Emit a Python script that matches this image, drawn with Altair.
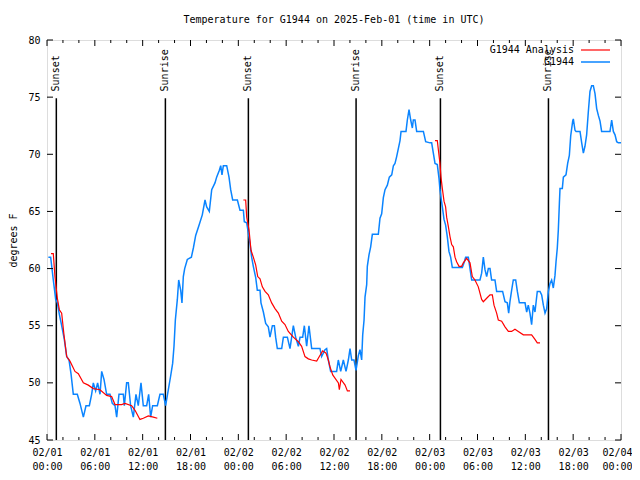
import altair as alt
import pandas as pd

TITLE = "Temperature for G1944 on 2025-Feb-01 (time in UTC)"
FONT = "DejaVu Sans Mono"
BLUE = "#0a84ff"

# Observations (hours after 2025-02-01 00:00 UTC, degrees F)
obs_hours = [
    0.17, 0.46, 0.79, 1.09, 1.30, 1.55, 1.84, 2.17, 2.47, 2.76, 3.01, 3.30, 3.80, 4.14, 4.56, 4.89,
    5.31, 5.60, 5.81, 6.10, 6.35, 6.65, 6.86, 7.15, 7.48, 7.90, 8.19, 8.53, 8.74, 9.03, 9.57, 9.70,
    9.99, 10.20, 10.49, 10.83, 11.16, 11.45, 11.79, 12.08, 12.50, 12.75, 13.00, 13.25, 13.84, 14.17,
    14.59, 14.88,
    15.22, 15.51, 15.76, 15.93, 16.10, 16.35, 16.52, 16.77, 16.93, 17.10, 17.27, 17.60, 18.11, 18.36,
    18.65, 19.07, 19.48, 19.82, 20.03, 20.36, 20.66, 21.07, 21.28, 21.62, 21.79, 21.95, 22.12, 22.54,
    22.83, 23.04, 23.29, 23.88,
    24.21, 24.63, 24.75, 25.05, 25.26, 25.46, 25.67, 25.88, 26.18, 26.38, 26.72, 26.84, 27.14, 27.43,
    27.76, 27.97, 28.27, 28.52, 28.68, 28.89, 29.44, 29.65, 30.15, 30.48, 30.69, 30.90, 31.19, 31.53,
    31.74, 32.07, 32.28, 32.57, 32.86, 33.20, 34.24, 34.45, 34.87, 35.08, 35.29, 35.58, 36.33, 36.54,
    36.84, 37.17, 37.51, 37.80,
    38.01, 38.22, 38.51, 38.76, 39.06, 39.26, 39.47, 39.60, 39.77, 39.89, 40.10, 40.18, 40.39, 40.60,
    40.81, 41.56, 41.77, 41.98, 42.19, 42.40, 42.69, 42.94, 43.24, 43.45, 43.65, 43.86, 44.07, 44.28,
    44.41, 45.03, 45.20, 45.41, 45.62, 45.83, 45.95, 46.16, 46.37, 47.21, 47.50,
    48.04, 48.25, 48.46, 48.67, 48.96, 49.17, 49.29, 49.42, 49.59, 49.80, 50.00, 50.21, 50.42, 50.63,
    50.84, 52.10, 52.35, 52.51, 52.85, 53.06, 53.27, 54.31, 54.52, 54.73, 54.94, 55.15, 55.36, 55.57,
    55.77, 56.19, 56.40, 57.15, 57.45, 57.74, 57.91, 58.07, 58.28, 58.49, 58.79, 59.00, 59.25, 59.96,
    60.17, 60.37, 60.58, 60.79, 61.00, 61.21, 61.50, 61.71,
    61.84, 62.05, 62.26, 62.47, 62.68, 62.76, 62.89, 63.10, 63.30, 63.51, 63.72, 63.85, 64.01, 64.14,
    64.27, 64.35, 64.64, 64.77, 65.10, 65.31, 65.52, 65.69, 65.94, 66.02, 66.23, 66.36, 66.86, 67.07,
    67.28, 67.48, 67.69, 67.90, 68.11, 68.32, 68.53, 68.74, 68.95, 69.16, 69.37, 69.57, 70.62, 70.83,
    71.04, 71.25, 71.46, 71.66, 72.00,
]
obs_temp = [
    61, 61, 59, 57.3, 57, 56, 55, 53.8, 52.3, 52, 50.8, 49, 49, 48.2, 47, 48,
    48, 49, 50, 49.3, 50, 49, 51, 50.3, 49, 49, 48.2, 48, 47, 49, 49, 48,
    50, 50, 48, 47, 49, 48, 50, 48, 48, 49, 47, 48, 48, 49,
    49, 48,
    49.4, 50.6, 51.7, 53.2, 55.5, 57.3, 59.0, 58.1, 57.0, 59.3, 60.0, 60.8, 61.0, 61.8,
    62.9, 63.8, 64.7, 66.0, 65.4, 65.0, 66.9, 67.5, 68.0, 68.6, 69.0, 68.2, 69.0, 69.0,
    68.0, 66.9, 66.0, 66.0,
    65.1, 65.1, 64.1, 64.0, 63.1, 62.2, 61.0, 60.2, 59.2, 58.1, 58.1, 57.0, 56.2, 55.2,
    54.9, 54.0, 55.0, 55.0, 54.0, 53.0, 53.0, 54.0, 54.0, 53.0, 54.0, 55.0, 54.0, 53.2,
    54.0, 54.0, 55.0, 53.2, 55.0, 53.0, 53.0, 52.3, 52.9, 53.0, 52.0, 51.0, 51.0, 52.0,
    51.0, 52.0, 51.0, 52.0,
    53.0, 52.0, 52.0, 51.1, 52.4, 52.9, 52.0, 54.2, 55.5, 57.5, 58.6, 60.2, 61.2, 61.9,
    63.0, 63.0, 64.4, 64.8, 66.2, 66.9, 67.3, 68.0, 68.2, 69.0, 69.2, 69.8, 70.5, 71.2,
    72.0, 72.0, 73.0, 73.9, 73.0, 72.3, 73.0, 73.0, 72.0, 72.0, 71.1,
    71.0, 71.0, 70.1, 69.2, 69.1, 67.9, 66.9, 66.2, 65.4, 64.3, 63.8, 62.8, 61.5, 61.0,
    60.1, 60.1, 60.6, 61.0, 61.0, 60.0, 59.0, 59.0, 59.6, 61.0, 59.9, 59.3, 60.0, 60.0,
    59.0, 59.0, 58.0, 58.0, 57.1, 57.0, 56.1, 57.1, 58.1, 59.0, 59.0, 58.0, 57.0, 57.0,
    56.2, 56.8, 56.1, 55.1, 56.8, 56.2, 58.0, 58.0,
    58.0, 57.7, 56.8, 56.1, 56.5, 57.1, 58.0, 58.7, 59.0, 58.3, 59.4, 60.6, 61.8, 63.4,
    65.7, 67.0, 67.0, 68.0, 68.2, 69.2, 69.9, 71.6, 72.9, 73.1, 72.1, 72.0, 72.0, 71.0,
    70.1, 70.7, 71.7, 73.7, 75.5, 76.0, 76.0, 75.3, 74.0, 73.4, 72.9, 72.0, 72.0, 73.0,
    72.0, 71.7, 71.1, 71.0, 71.0,
]

# Analysis, three night-time segments
ana1_hours = [0.50, 0.79, 1.00, 1.30, 1.55, 1.84, 2.13, 2.47, 2.88, 3.51, 3.93, 4.56, 5.18, 5.81,
              6.65, 7.48, 8.11, 8.53, 9.36, 9.78, 10.62, 11.04, 11.66, 12.08, 12.71, 13.34, 13.84]
ana1_temp = [61.3, 61.3, 59.3, 57.4, 56.4, 56.1, 54.2, 52.3, 51.9, 51.0, 50.8, 50.0, 49.8, 49.5,
             49.4, 48.9, 48.8, 48.1, 48.1, 48.2, 48.0, 47.6, 46.8, 46.9, 47.1, 47.0, 46.9]
ana2_hours = [24.63, 24.92, 25.05, 25.34, 25.59, 25.88, 26.18, 26.43, 26.72, 27.01, 27.35, 27.76,
              28.18, 28.60, 29.02, 29.44, 29.85, 30.27, 30.90, 31.53, 31.94, 32.36, 32.78, 33.20,
              33.83, 34.16, 34.58, 35.00, 35.29, 35.50, 35.84, 36.55, 36.67, 36.88, 37.39, 37.68, 38.01]
ana2_temp = [66.0, 66.0, 64.5, 63.4, 61.6, 61.0, 60.3, 59.3, 59.1, 58.4, 58.0, 57.7,
             57.0, 56.5, 56.1, 55.4, 55.1, 54.5, 54.0, 53.6, 53.2, 52.3, 52.1, 52.0,
             51.9, 52.3, 52.8, 52.6, 52.0, 51.4, 50.7, 50.0, 49.4, 50.3, 49.8, 49.3, 49.3]
ana3_hours = [48.67, 48.96, 49.09, 49.29, 49.42, 49.59, 49.80, 50.00, 50.13, 50.34, 50.55, 50.76,
              50.97, 51.18, 51.38, 51.68, 52.01, 52.22, 52.64, 53.06, 53.35, 53.68, 54.10, 54.52,
              54.73, 55.15, 55.57, 55.86, 56.07, 56.40, 56.61, 57.03, 57.45, 57.87, 58.28, 58.70,
              59.12, 59.75, 60.79, 61.21, 61.50, 61.84]
ana3_temp = [71.2, 71.2, 70.4, 69.2, 68.0, 67.0, 65.9, 65.4, 64.5, 63.7, 62.8, 62.1,
             61.9, 61.0, 60.6, 60.2, 60.2, 60.5, 60.9, 60.5, 59.3, 59.0, 58.4, 57.3,
             57.1, 57.4, 57.7, 57.7, 56.8, 56.1, 55.5, 55.4, 54.9, 54.5, 54.5, 54.7,
             54.5, 54.2, 54.2, 53.8, 53.5, 53.5]

sun_hours = [1.17, 14.85, 25.26, 38.77, 49.35, 62.90]
sun_labels = ["Sunset", "Sunrise", "Sunset", "Sunrise", "Sunset", "Sunrise"]

y_ticks = [45, 50, 55, 60, 65, 70, 75, 80]
x_major_hours = list(range(0, 73, 6))
x_minor_hours = [h for h in range(0, 73, 2) if h % 6 != 0]

base = pd.Timestamp("2025-02-01 00:00:00")


def ts(hours):
    return [(base + pd.Timedelta(hours=h)).strftime("%Y-%m-%dT%H:%M:%SZ") for h in hours]


obs = pd.DataFrame({"time": ts(obs_hours), "temp": obs_temp})
ana = pd.concat([
    pd.DataFrame({"time": ts(h), "temp": v, "seg": i})
    for i, (h, v) in enumerate([(ana1_hours, ana1_temp), (ana2_hours, ana2_temp), (ana3_hours, ana3_temp)])
])
sun = pd.DataFrame({"time": ts(sun_hours), "label": sun_labels})
xmaj = pd.DataFrame({"time": ts(x_major_hours)})
xmin = pd.DataFrame({"time": ts(x_minor_hours)})
ytk = pd.DataFrame({"temp": y_ticks})

xscale = alt.Scale(
    type="utc",
    domain=[alt.DateTime(year=2025, month=2, date=1, hours=0, utc=True),
            alt.DateTime(year=2025, month=2, date=4, hours=0, utc=True)],
    nice=False,
)
yscale = alt.Scale(domain=[45, 80], nice=False, zero=False)

x_values = [alt.DateTime(year=2025, month=2, date=1 + h // 24, hours=h % 24, utc=True) for h in x_major_hours]

xaxis = alt.Axis(
    values=x_values,
    labelExpr="[utcFormat(datum.value, '%m/%d'), utcFormat(datum.value, '%H:%M')]",
    ticks=False, domain=False, grid=False, title=None,
    labelFont=FONT, labelFontSize=10, labelColor="black", labelPadding=7,
    labelLineHeight=14, labelBaseline="top", labelAngle=0, labelOverlap=False, labelFlush=False,
    labelOffset={"condition": {"test": "datum.value >= utc(2025, 1, 3, 23, 0)", "value": -4}, "value": 0},
)
yaxis = alt.Axis(
    values=y_ticks, ticks=False, domain=False, grid=False,
    labelFont=FONT, labelFontSize=10, labelColor="black", labelPadding=7,
    title="degrees F", titleFont=FONT, titleFontSize=10, titleFontWeight="normal",
    titleColor="black", titleX=-34, titleY=200, titleAngle=270,
    titleAlign="center", titleBaseline="middle",
)

X = alt.X("time:T", scale=xscale, axis=xaxis, title=None)
Y = alt.Y("temp:Q", scale=yscale, axis=yaxis, title="degrees F")

sun_rules = alt.Chart(sun).mark_rule(color="black", strokeWidth=1.5).encode(
    x=X, y=alt.datum(45), y2=alt.datum(74.9)
)
sun_text = alt.Chart(sun).mark_text(
    angle=270, align="left", baseline="middle", font=FONT, fontSize=10, color="black"
).encode(x=X, y=alt.datum(75.5), text="label:N")

blue = alt.Chart(obs).mark_line(color=BLUE, strokeWidth=1.5).encode(x=X, y=Y)
red = alt.Chart(ana).mark_line(color="red", strokeWidth=1.2).encode(x=X, y=Y, detail="seg:N")

tk_maj_b = alt.Chart(xmaj).mark_rule(color="black").encode(x=X, y=alt.value(400), y2=alt.value(394))
tk_maj_t = alt.Chart(xmaj).mark_rule(color="black").encode(x=X, y=alt.value(0), y2=alt.value(6))
tk_min_b = alt.Chart(xmin).mark_rule(color="black").encode(x=X, y=alt.value(400), y2=alt.value(397))
tk_min_t = alt.Chart(xmin).mark_rule(color="black").encode(x=X, y=alt.value(0), y2=alt.value(3))
tk_y_l = alt.Chart(ytk).mark_rule(color="black").encode(y=Y, x=alt.value(0), x2=alt.value(6))
tk_y_r = alt.Chart(ytk).mark_rule(color="black").encode(y=Y, x=alt.value(568), x2=alt.value(574))

leg_df = pd.DataFrame({"k": [0]})
leg_t1 = alt.Chart(leg_df).mark_text(align="right", baseline="middle", font=FONT, fontSize=10, color="black").encode(
    x=alt.value(527), y=alt.value(10), text=alt.value("G1944 Analysis"))
leg_t2 = alt.Chart(leg_df).mark_text(align="right", baseline="middle", font=FONT, fontSize=10, color="black").encode(
    x=alt.value(527), y=alt.value(22), text=alt.value("G1944"))
leg_l1 = alt.Chart(leg_df).mark_rule(color="red", strokeWidth=1.2).encode(
    x=alt.value(534), x2=alt.value(563), y=alt.value(10))
leg_l2 = alt.Chart(leg_df).mark_rule(color=BLUE, strokeWidth=1.5).encode(
    x=alt.value(534), x2=alt.value(563), y=alt.value(22))

chart = alt.layer(
    sun_rules, sun_text, blue, red,
    tk_maj_b, tk_maj_t, tk_min_b, tk_min_t, tk_y_l, tk_y_r,
    leg_t1, leg_t2, leg_l1, leg_l2,
).properties(
    width=574, height=400,
    title=alt.TitleParams(TITLE, anchor="middle", font=FONT, fontSize=10, fontWeight="normal",
                          color="black", offset=10),
    autosize=alt.AutoSizeParams(type="none"),
    padding={"left": 39, "top": 32, "right": 11, "bottom": 32},
).configure_view(stroke="black", strokeWidth=1).configure(background="white")

chart.save("out.html", embed_options={"renderer": "svg", "actions": False})
